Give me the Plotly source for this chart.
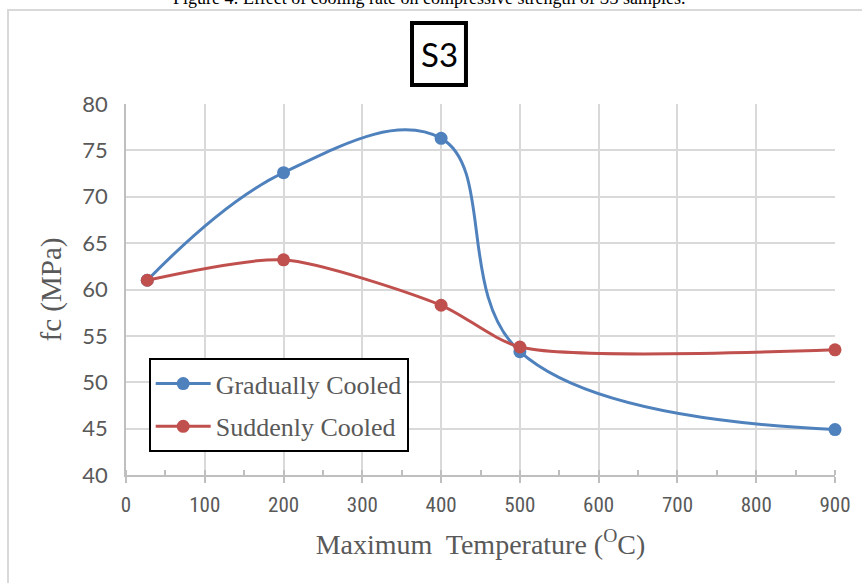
import plotly.graph_objects as go

# Maximum temperature (°C) and compressive strength fc (MPa) for S3 samples
temperature = [27, 200, 400, 500, 900]
gradually_cooled = [61.0, 72.6, 76.3, 53.3, 44.9]
suddenly_cooled = [61.0, 63.2, 58.3, 53.8, 53.5]

y_ticks = [40, 45, 50, 55, 60, 65, 70, 75, 80]
x_ticks = [0, 100, 200, 300, 400, 500, 600, 700, 800, 900]

BLUE = "#4F81BD"
RED = "#C0504D"
GRID = "#d9d9d9"
TEXT = "#595959"
SERIF = "Liberation Serif, Times New Roman, serif"

fig = go.Figure()
fig.add_trace(go.Scatter(
    x=temperature, y=gradually_cooled, name="Gradually Cooled",
    mode="lines+markers", line=dict(color=BLUE, width=3, shape="spline", smoothing=1.15),
    marker=dict(color=BLUE, size=13), legendgroup="g", cliponaxis=False,
))
fig.add_trace(go.Scatter(
    x=temperature, y=suddenly_cooled, name="Suddenly Cooled",
    mode="lines+markers", line=dict(color=RED, width=3, shape="spline", smoothing=0.7),
    marker=dict(color=RED, size=13), legendgroup="s", cliponaxis=False,
))

fig.update_layout(
    width=862, height=583,
    margin=dict(l=126, r=27, t=104, b=108),
    paper_bgcolor="white", plot_bgcolor="white",
    showlegend=True,
    legend=dict(
        x=0.032, y=0.315, xanchor="left", yanchor="top",
        bordercolor="black", borderwidth=2, bgcolor="white",
        font=dict(family=SERIF, size=26, color=TEXT),
        traceorder="grouped", tracegroupgap=6, itemwidth=55,
    ),
    xaxis=dict(
        range=[0, 900], tickvals=x_ticks, showgrid=True, gridcolor=GRID, gridwidth=1.5,
        showline=True, linecolor="#bfbfbf", linewidth=1.5,
        ticks="outside", ticklen=6, tickcolor="#bfbfbf", tickwidth=1.5,
        minor=dict(dtick=50, ticks="inside", ticklen=5, tickcolor="#bfbfbf", showgrid=False),
        tickfont=dict(family="Liberation Sans Narrow, Roboto Condensed, Liberation Sans, sans-serif",
                      size=21, color=TEXT),
        ticklabelstandoff=4,
        title=dict(text="Maximum  Temperature (<sup>O</sup>C)",
                   font=dict(family=SERIF, size=28, color=TEXT), standoff=18),
        zeroline=False,
    ),
    yaxis=dict(
        range=[40, 80], tickvals=y_ticks, showgrid=True, gridcolor=GRID, gridwidth=1.5,
        showline=True, linecolor="#bfbfbf", linewidth=1.5, ticks="",
        tickfont=dict(family="Lato, Open Sans, sans-serif", size=22, color=TEXT),
        ticklabelstandoff=12,
        title=dict(text="fc (MPa)", font=dict(family=SERIF, size=29, color=TEXT), standoff=12),
        zeroline=False,
    ),
)

# Outer frame of the chart area
fig.add_shape(type="rect", xref="paper", yref="paper",
              x0=-0.1664, y0=-0.35, x1=1.1, y1=1.2534,
              line=dict(color=GRID, width=2), fillcolor="rgba(0,0,0,0)", layer="below")

# Boxed "S3" label
fig.add_shape(type="rect", xref="paper", yref="paper",
              x0=0.4034, x1=0.4795, y0=1.051, y1=1.218,
              line=dict(color="black", width=4), fillcolor="white")
fig.add_annotation(x=0.4415, y=1.1345, xref="paper", yref="paper",
                   text="S3", showarrow=False, xanchor="center", yanchor="middle",
                   font=dict(family="Lato, Open Sans, sans-serif", size=33, color="black"))

# Figure caption along the top edge
fig.add_annotation(x=0.428, y=1.285, xref="paper", yref="paper",
                   text="Figure 4: Effect of cooling rate on compressive strength of S3 samples.",
                   showarrow=False, xanchor="center", yanchor="middle",
                   font=dict(family=SERIF, size=18, color="black"))

fig.write_html("out.html")
